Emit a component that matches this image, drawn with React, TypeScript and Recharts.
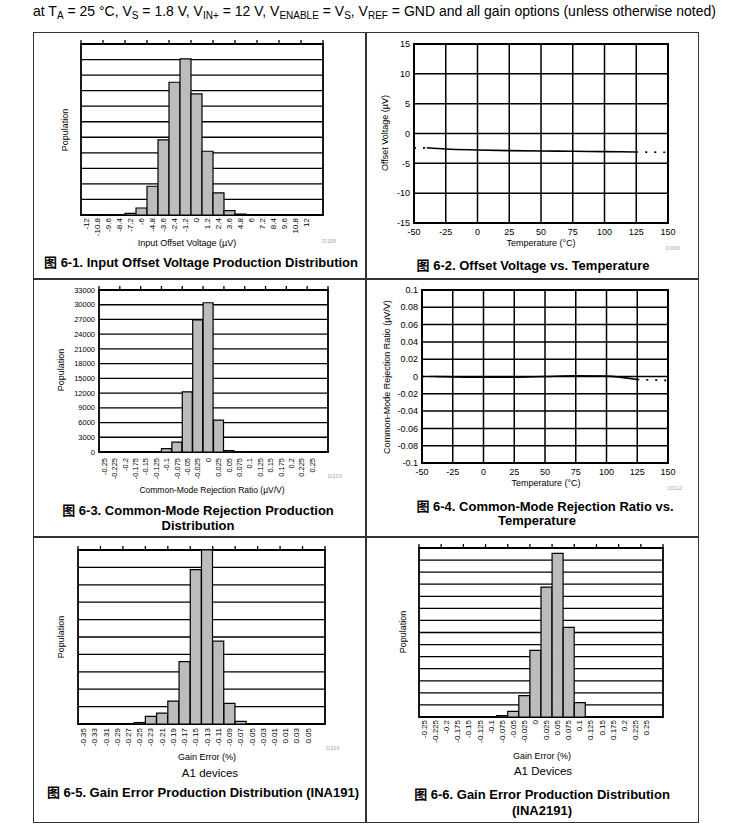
import React from 'react';
import {
  BarChart,
  Bar,
  LineChart,
  Line,
  XAxis,
  YAxis,
  CartesianGrid,
  ReferenceArea,
} from 'recharts';

const FONT = '"Liberation Sans", Arial, "Noto Sans CJK SC", sans-serif';

// 6-1 input offset voltage distribution (relative population)
const vosBins = ['-12', '-10.8', '-9.6', '-8.4', '-7.2', '-6', '-4.8', '-3.6', '-2.4', '-1.2', '0', '1.2', '2.4', '3.6', '4.8', '6', '7.2', '8.4', '9.6', '10.8', '12', ''];
const vosCounts = [0, 0, 0.01, 0.02, 0.1, 0.45, 1.85, 4.83, 8.54, 10.04, 7.79, 4.1, 1.42, 0.28, 0.06, 0, 0, 0, 0, 0, 0, 0];
const vosGrid = [0, 1, 2, 3, 4, 5, 6, 7, 8, 9, 10, 11];

// 6-2 offset voltage vs temperature
const temps = [-50, -40, -25, 0, 25, 50, 75, 100, 125, 150];
const tempTicks = [-50, -25, 0, 25, 50, 75, 100, 125, 150];
const vosMeasured = [null, -2.4, -2.6, -2.76, -2.87, -2.93, -2.98, -3.04, -3.1, null];
const vosExtended = [-2.42, -2.4, null, null, null, null, null, null, -3.1, -3.15];
const vosTempTicks = [-15, -10, -5, 0, 5, 10, 15];

// 6-3 CMRR distribution
const cmrrBins = ['-0.25', '-0.225', '-0.2', '-0.175', '-0.15', '-0.125', '-0.1', '-0.075', '-0.05', '-0.025', '0', '0.025', '0.05', '0.075', '0.1', '0.125', '0.15', '0.175', '0.2', '0.225', '0.25', ''];
const cmrrCounts = [0, 0, 0, 0, 0, 40, 700, 2000, 12250, 26900, 30400, 6500, 300, 60, 0, 0, 0, 0, 0, 0, 0, 0];
const cmrrPopTicks = [0, 3000, 6000, 9000, 12000, 15000, 18000, 21000, 24000, 27000, 30000, 33000];

// 6-4 CMRR vs temperature
const cmrrMeasured = [null, 0, -0.0004, -0.0008, -0.0008, 0, 0.0008, 0.0004, -0.0035, null];
const cmrrExtended = [0, 0, null, null, null, null, null, null, -0.0035, -0.0046];
const cmrrTempTicks = [-0.1, -0.08, -0.06, -0.04, -0.02, 0, 0.02, 0.04, 0.06, 0.08, 0.1];

// 6-5 gain error INA191
const ge191Bins = ['-0.35', '-0.33', '-0.31', '-0.29', '-0.27', '-0.25', '-0.23', '-0.21', '-0.19', '-0.17', '-0.15', '-0.13', '-0.11', '-0.09', '-0.07', '-0.05', '-0.03', '-0.01', '0.01', '0.03', '0.05', ''];
const ge191Counts = [0, 0, 0, 0, 0, 0.08, 0.44, 0.63, 1.32, 3.59, 8.87, 10, 4.76, 1.19, 0.15, 0.01, 0, 0, 0, 0, 0, 0];
const ge191Grid = [0, 1, 2, 3, 4, 5, 6, 7, 8, 9, 10];

// 6-6 gain error INA2191
const ge2191Bins = ['-0.25', '-0.225', '-0.2', '-0.175', '-0.15', '-0.125', '-0.1', '-0.075', '-0.05', '-0.025', '0', '0.025', '0.05', '0.075', '0.1', '0.125', '0.15', '0.175', '0.2', '0.225', '0.25', ''];
const ge2191Counts = [0, 0, 0, 0, 0, 0, 0, 0.11, 0.47, 1.77, 5.52, 10.76, 13.56, 7.43, 1.19, 0.02, 0, 0, 0, 0, 0, 0];
const ge2191Grid = [0, 1, 2, 3, 4, 5, 6, 7, 8, 9, 10, 11, 12, 13, 14];

function RotatedTick(props: any) {
  const { x, y, payload, size, gap } = props;
  const ty = y + gap;
  return (
    <text
      x={x}
      y={ty}
      transform={`rotate(-90 ${x} ${ty})`}
      textAnchor="end"
      dominantBaseline="central"
      fontSize={size}
      fill="#000"
    >
      {payload.value}
    </text>
  );
}

// short mark above the frame at every second bin edge (and the last edge)
function EdgeTick(props: any) {
  const { x, y, index, half, count } = props;
  let ex: number | null = null;
  if (index % 2 === 0) ex = x - half;
  else if (index === count - 1) ex = x + half;
  if (ex === null) return null;
  return <line x1={ex} x2={ex} y1={y} y2={y - 4} stroke="#000" strokeWidth={1.3} />;
}

// keeps the ticks (for grid lines) but draws no label
function EmptyTick() {
  return null;
}

type HistProps = {
  bins: string[];
  counts: number[];
  grid: number[];
  x0: number;
  y0: number;
  plotW: number;
  plotH: number;
  yw: number;
  tickSize: number;
  gap: number;
  showY?: boolean;
};

function Histogram({ bins, counts, grid, x0, y0, plotW, plotH, yw, tickSize, gap, showY }: HistProps) {
  const data = bins.map((bin, i) => ({ bin, count: counts[i] }));
  const yMax = grid[grid.length - 1];
  const mt = 6;
  const th = 1;
  const mr = 2;
  const xh = 40;
  return (
    <div style={{ position: 'absolute', left: x0 - yw, top: y0 - mt - th }}>
      <BarChart
        width={yw + plotW + mr}
        height={mt + th + plotH + xh}
        data={data}
        margin={{ top: mt, right: mr, bottom: 0, left: 0 }}
        barCategoryGap={0}
      >
        <CartesianGrid vertical={false} stroke="#000" strokeWidth={1.3} />
        <XAxis
          dataKey="bin"
          interval={0}
          tickLine={false}
          axisLine={false}
          tickSize={0}
          tickMargin={0}
          height={xh}
          tick={<RotatedTick size={tickSize} gap={gap} />}
        />
        <XAxis
          xAxisId="edge"
          dataKey="bin"
          orientation="top"
          interval={0}
          height={th}
          tickSize={0}
          tickMargin={0}
          tickLine={false}
          axisLine={false}
          tick={<EdgeTick half={plotW / bins.length / 2} count={bins.length} />}
        />
        <YAxis
          domain={[0, yMax]}
          ticks={grid}
          interval={0}
          width={yw}
          axisLine={false}
          tickLine={false}
          tickSize={0}
          tickMargin={4}
          tick={showY ? { fontSize: 7.5, fill: '#000' } : <EmptyTick />}
        />
        <Bar dataKey="count" fill="#bcbcbc" stroke="#000" strokeWidth={1.2} isAnimationActive={false} />
        <ReferenceArea y1={0} y2={yMax} fill="none" stroke="#000" strokeWidth={1.8} />
      </BarChart>
    </div>
  );
}

type TempProps = {
  measured: (number | null)[];
  extended: (number | null)[];
  yTicks: number[];
  x0: number;
  y0: number;
  plotW: number;
  plotH: number;
  yw: number;
};

function TempChart({ measured, extended, yTicks, x0, y0, plotW, plotH, yw }: TempProps) {
  const data = temps.map((t, i) => ({ t, measured: measured[i], extended: extended[i] }));
  const yMin = yTicks[0];
  const yMax = yTicks[yTicks.length - 1];
  const mt = 6;
  const mr = 8;
  const xh = 20;
  return (
    <div style={{ position: 'absolute', left: x0 - yw, top: y0 - mt }}>
      <LineChart
        width={yw + plotW + mr}
        height={mt + plotH + xh}
        data={data}
        margin={{ top: mt, right: mr, bottom: 0, left: 0 }}
      >
        <CartesianGrid stroke="#000" strokeWidth={1.5} />
        <XAxis
          dataKey="t"
          type="number"
          domain={[-50, 150]}
          ticks={tempTicks}
          interval={0}
          tickLine={false}
          axisLine={false}
          tickSize={0}
          tickMargin={6}
          height={xh}
          tick={{ fontSize: 9, fill: '#000' }}
        />
        <YAxis
          type="number"
          domain={[yMin, yMax]}
          ticks={yTicks}
          interval={0}
          width={yw}
          axisLine={false}
          tickLine={false}
          tickSize={0}
          tickMargin={4}
          tick={{ fontSize: 9, fill: '#000' }}
        />
        <ReferenceArea y1={yMin} y2={yMax} fill="none" stroke="#000" strokeWidth={2} />
        <Line
          dataKey="measured"
          type="monotone"
          stroke="#000"
          strokeWidth={1.6}
          dot={false}
          isAnimationActive={false}
        />
        <Line
          dataKey="extended"
          type="linear"
          stroke="#000"
          strokeWidth={1.6}
          strokeDasharray="2 7"
          dot={false}
          isAnimationActive={false}
        />
      </LineChart>
    </div>
  );
}

function Txt({ x, y, size, bold, rotate, color, children }: any) {
  return (
    <div
      style={{
        position: 'absolute',
        left: x,
        top: y,
        transform: `translate(-50%, -50%)${rotate ? ' rotate(-90deg)' : ''}`,
        fontSize: size,
        fontWeight: bold ? 700 : 400,
        whiteSpace: 'nowrap',
        lineHeight: 1,
        color: color || '#000',
      }}
    >
      {children}
    </div>
  );
}

const sub: React.CSSProperties = { fontSize: 10, verticalAlign: -3, lineHeight: 0 };

export default function App() {
  return (
    <div
      style={{
        position: 'absolute',
        left: 0,
        top: 0,
        width: 751,
        height: 830,
        background: '#fff',
        fontFamily: FONT,
        color: '#000',
        overflow: 'hidden',
      }}
    >
      <div style={{ position: 'absolute', left: 33, top: 3, fontSize: 14, lineHeight: '17px', whiteSpace: 'nowrap' }}>
        at T<span style={sub}>A</span> = 25 °C, V<span style={sub}>S</span> = 1.8 V, V<span style={sub}>IN+</span> = 12 V,
        V<span style={sub}>ENABLE</span> = V<span style={sub}>S</span>, V<span style={sub}>REF</span> = GND and all gain
        options (unless otherwise noted)
      </div>

      {/* table frame */}
      <div style={{ position: 'absolute', left: 33, top: 32, width: 666, height: 791, border: '1.5px solid #333', boxSizing: 'border-box' }} />
      <div style={{ position: 'absolute', left: 365, top: 32, width: 1.5, height: 791, background: '#333' }} />
      <div style={{ position: 'absolute', left: 33, top: 278, width: 666, height: 1.5, background: '#333' }} />
      <div style={{ position: 'absolute', left: 33, top: 536, width: 666, height: 1.5, background: '#333' }} />

      {/* 6-1 */}
      <Histogram bins={vosBins} counts={vosCounts} grid={vosGrid} x0={81} y0={44} plotW={242} plotH={171} yw={4} tickSize={8} gap={3} />
      <Txt x={65} y={130} size={9} rotate>Population</Txt>
      <Txt x={187} y={243} size={9}>Input Offset Voltage (µV)</Txt>
      <Txt x={329} y={241} size={6} color="#aaa">D118</Txt>
      <Txt x={201} y={262} size={13} bold>图 6-1. Input Offset Voltage Production Distribution</Txt>

      {/* 6-2 */}
      <TempChart measured={vosMeasured} extended={vosExtended} yTicks={vosTempTicks} x0={414} y0={44} plotW={254} plotH={179} yw={30} />
      <Txt x={385} y={133} size={9} rotate>Offset Voltage (µV)</Txt>
      <Txt x={541} y={243} size={9}>Temperature (°C)</Txt>
      <Txt x={673} y={248} size={6} color="#aaa">D006</Txt>
      <Txt x={533} y={265} size={13} bold>图 6-2. Offset Voltage vs. Temperature</Txt>

      {/* 6-3 */}
      <Histogram bins={cmrrBins} counts={cmrrCounts} grid={cmrrPopTicks} x0={99} y0={290} plotW={229} plotH={162} yw={34} tickSize={7.5} gap={6} showY />
      <Txt x={61} y={370} size={9} rotate>Population</Txt>
      <Txt x={212} y={490} size={8.5}>Common-Mode Rejection Ratio (µV/V)</Txt>
      <Txt x={335} y={476} size={6} color="#aaa">D119</Txt>
      <Txt x={198} y={510} size={13} bold>图 6-3. Common-Mode Rejection Production</Txt>
      <Txt x={198} y={525} size={13} bold>Distribution</Txt>

      {/* 6-4 */}
      <TempChart measured={cmrrMeasured} extended={cmrrExtended} yTicks={cmrrTempTicks} x0={422} y0={290} plotW={246} plotH={173} yw={38} />
      <Txt x={387} y={377} size={9} rotate>Common-Mode Rejection Ratio (µV/V)</Txt>
      <Txt x={546} y={483} size={9}>Temperature (°C)</Txt>
      <Txt x={675} y={488} size={6} color="#aaa">D012</Txt>
      <Txt x={545} y={506} size={13} bold>图 6-4. Common-Mode Rejection Ratio vs.</Txt>
      <Txt x={537} y={520} size={13} bold>Temperature</Txt>

      {/* 6-5 */}
      <Histogram bins={ge191Bins} counts={ge191Counts} grid={ge191Grid} x0={78} y0={550} plotW={247} plotH={174} yw={4} tickSize={8} gap={4} />
      <Txt x={61} y={637} size={9} rotate>Population</Txt>
      <Txt x={207} y={757} size={9}>Gain Error (%)</Txt>
      <Txt x={333} y={748} size={6} color="#aaa">D116</Txt>
      <Txt x={210} y={774} size={11.5}>A1 devices</Txt>
      <Txt x={203} y={792} size={13} bold>图 6-5. Gain Error Production Distribution (INA191)</Txt>

      {/* 6-6 */}
      <Histogram bins={ge2191Bins} counts={ge2191Counts} grid={ge2191Grid} x0={419} y0={548} plotW={244} plotH={169} yw={4} tickSize={8} gap={3} />
      <Txt x={403} y={632} size={9} rotate>Population</Txt>
      <Txt x={542} y={756} size={9}>Gain Error (%)</Txt>
      <Txt x={543} y={772} size={11.5}>A1 Devices</Txt>
      <Txt x={542} y={794} size={13} bold>图 6-6. Gain Error Production Distribution</Txt>
      <Txt x={542} y={810} size={13} bold>(INA2191)</Txt>
    </div>
  );
}
